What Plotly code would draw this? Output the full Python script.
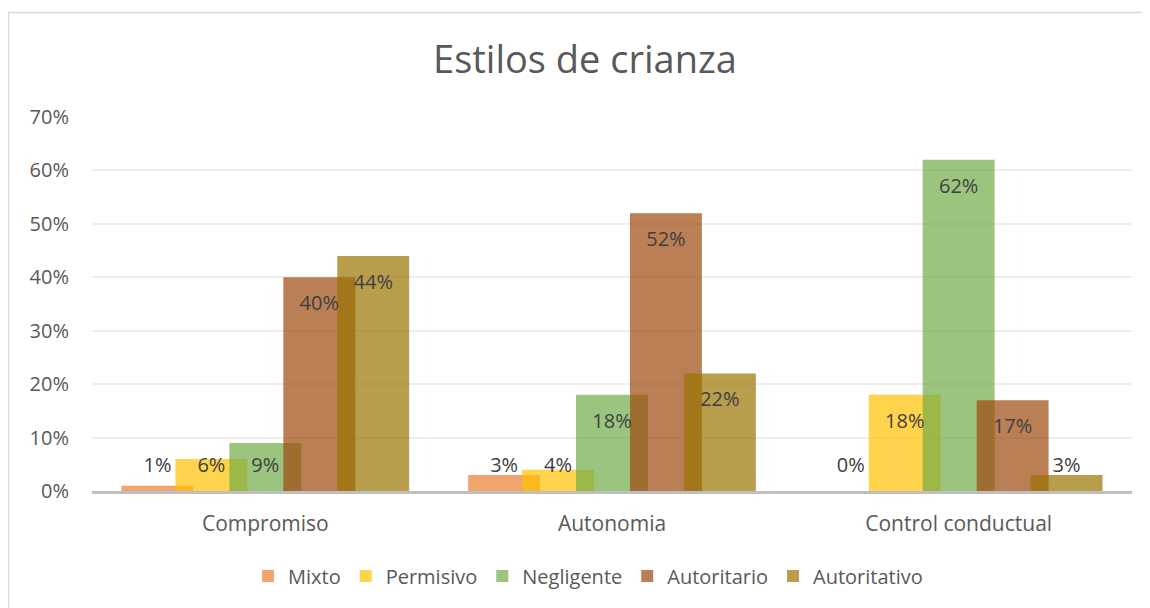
import plotly.graph_objects as go

categories = ["Compromiso", "Autonomia", "Control conductual"]
series_names = ["Mixto", "Permisivo", "Negligente", "Autoritario", "Autoritativo"]
mixto = [0.01, 0.03, 0.00]
permisivo = [0.06, 0.04, 0.18]
negligente = [0.09, 0.18, 0.62]
autoritario = [0.40, 0.52, 0.17]
autoritativo = [0.44, 0.22, 0.03]
y_ticks = [0, 0.1, 0.2, 0.3, 0.4, 0.5, 0.6, 0.7]

series_values = [mixto, permisivo, negligente, autoritario, autoritativo]
colors = ["rgba(237,125,49,0.7)", "rgba(255,192,0,0.7)", "rgba(112,173,71,0.7)",
          "rgba(158,72,14,0.7)", "rgba(153,115,0,0.7)"]

FONT = "Open Sans"
bar_w = 0.2075
step = 0.1556
idx = list(range(len(categories)))

fig = go.Figure()
for k, (name, vals, col) in enumerate(zip(series_names, series_values, colors)):
    xs = [i + (k - 2) * step for i in idx]
    fig.add_trace(go.Bar(
        x=xs, y=vals, width=bar_w, name=name,
        marker=dict(color=col, line=dict(width=0)),
        hoverinfo="skip",
    ))
for k, vals in enumerate(series_values):
    xs = [i + (k - 2) * step for i in idx]
    fig.add_trace(go.Scatter(
        x=xs, y=[max(v - 0.0524, 0.045) for v in vals],
        mode="text", text=[f"{round(v*100)}%" for v in vals],
        textfont=dict(family=FONT, size=20, color="#404040"),
        showlegend=False, hoverinfo="skip",
    ))

# page has an 8px body margin; positions below are in reference-image pixels
OFF = 8
W, H = 1150, 608
L = 92 - OFF
T = 117 - OFF
R = W - (1132 - OFF)
B = H - (491 - OFF)
pw, ph = W - L - R, H - T - B

def px(x):
    return (x - OFF - L) / pw

def py(y):
    return (H - B - (y - OFF)) / ph

fig.add_shape(type="rect", xref="paper", yref="paper",
              x0=px(8.5), x1=px(1170), y0=py(630), y1=py(12.5),
              line=dict(color="#D9D9D9", width=1.5), fillcolor="rgba(0,0,0,0)", layer="below")

fig.update_layout(
    width=W, height=H,
    margin=dict(l=L, r=R, t=T, b=B),
    paper_bgcolor="white", plot_bgcolor="white",
    barmode="overlay",
    title=dict(text="Estilos de crianza", x=(585 - OFF) / W, xanchor="center",
               y=1 - (60 - OFF) / H, yanchor="middle",
               font=dict(family=FONT, size=38, color="#595959")),
    xaxis=dict(range=[-0.5, 2.5], tickvals=idx, ticktext=categories,
               showgrid=False, zeroline=False, showline=True,
               linecolor="#BFBFBF", linewidth=2.5, ticks="",
               ticklabelstandoff=12,
               tickfont=dict(family=FONT, size=21, color="#595959")),
    yaxis=dict(range=[0, 0.7], tickvals=y_ticks, tickformat=".0%",
               showgrid=True, gridcolor="#EEEEEE", gridwidth=1.5,
               zeroline=False, showline=False, ticks="",
               ticklabelstandoff=22,
               tickfont=dict(family=FONT, size=20, color="#595959")),
    legend=dict(orientation="h", x=px(588), xanchor="center",
                y=py(576), yanchor="middle",
                font=dict(family=FONT, size=20, color="#595959"),
                itemwidth=30, traceorder="normal"),
    showlegend=True,
)

fig.write_html("out.html")
